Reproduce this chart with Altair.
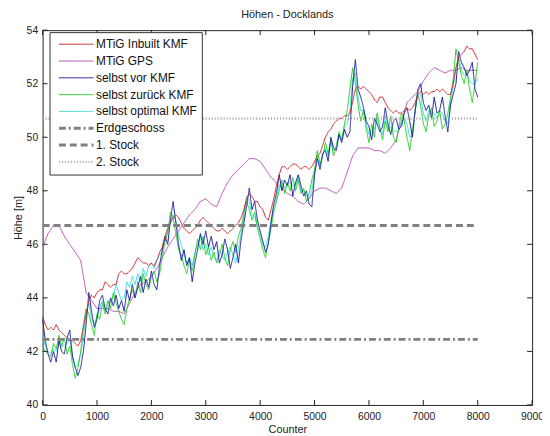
import altair as alt
import pandas as pd

# ---------------- data ----------------
counter_fine = list(range(0, 8001, 50))
counter_gps = list(range(0, 8001, 100))

inbuilt_kmf = [
    43.3, 43.0, 42.8, 42.9, 42.8, 43.0, 42.8, 42.7, 42.6, 42.5,
    42.4, 42.4, 42.3, 42.2, 42.4, 42.9, 43.4, 43.9, 44.1, 44.0,
    44.2, 44.3, 44.3, 44.6, 44.5, 44.4, 44.5, 44.5, 44.9, 45.0,
    44.9, 44.9, 45.0, 45.1, 45.3, 45.5, 45.4, 45.3, 45.3, 45.2,
    45.3, 45.2, 45.4, 45.7, 45.9, 46.3, 46.6, 46.8, 47.0, 47.1,
    47.0, 46.8, 46.6, 46.5, 46.4, 46.5, 46.6, 46.7, 46.9, 47.0,
    46.9, 46.8, 46.7, 46.6, 46.5, 46.5, 46.6, 46.5, 46.4, 46.5,
    46.6, 46.7, 46.8, 47.0, 47.3, 47.7, 47.9, 47.8, 47.6, 47.6,
    47.4, 47.3, 47.0, 46.9, 47.3, 47.7, 48.2, 48.6, 48.9, 48.9,
    48.8, 48.9, 49.0, 49.0, 48.9, 48.8, 48.9, 48.9, 48.8, 48.9,
    49.1, 49.3, 49.4, 49.7, 50.0, 50.2, 50.3, 50.5, 50.6, 50.7,
    50.7, 50.8, 50.8, 50.9, 51.3, 51.8, 51.9, 51.8, 51.9, 51.8,
    51.7, 51.6, 51.4, 51.3, 51.5, 51.5, 51.3, 51.1, 51.0, 50.9,
    51.0, 50.9, 50.9, 51.0, 51.1, 51.0, 51.1, 51.3, 51.6, 51.7,
    51.6, 51.7, 51.6, 51.7, 51.7, 51.8, 51.7, 51.8, 51.7, 51.6,
    51.6, 52.0, 52.6, 53.0, 53.1, 53.2, 53.4, 53.3, 53.3, 53.1,
    52.9,
]

selbst_vor = [
    43.2, 42.4, 41.9, 41.6, 42.0, 41.6, 42.4, 42.0, 41.9, 42.5,
    42.8, 41.8, 41.4, 41.1, 41.4, 42.0, 43.0, 44.2, 43.5, 42.9,
    43.2, 43.9, 44.1, 43.6, 43.4, 44.0, 43.7, 44.1, 43.6, 43.9,
    43.5, 44.3, 43.9, 44.5, 44.0, 44.4, 44.8, 44.2, 44.7, 44.4,
    45.0, 44.5, 44.3, 45.2, 45.8, 46.3, 46.0, 46.9, 47.6, 46.8,
    46.0, 45.4, 45.8, 45.2, 45.5, 44.6, 45.3, 45.8, 46.4, 46.0,
    46.5, 45.9, 46.3, 45.8, 46.1, 45.3, 45.6, 46.2, 45.8, 45.1,
    45.5, 46.0, 45.3, 46.2, 46.8, 47.4, 48.1, 47.3, 47.6, 46.9,
    46.5, 46.1, 45.7, 46.0, 46.8, 47.5, 47.9, 48.6, 48.0, 48.4,
    48.2, 48.6, 47.8, 48.3, 48.6, 48.2, 47.8, 48.0, 47.5, 47.4,
    48.6, 49.2, 48.8, 49.4, 49.5, 49.1, 50.0, 49.6, 49.5, 50.1,
    49.8, 50.3, 50.0, 50.2, 51.9, 52.9, 51.8, 51.5, 51.1, 50.6,
    50.4, 49.9, 50.7, 50.5, 50.2, 50.4, 51.1, 50.5, 50.1, 50.6,
    50.7, 50.3, 50.4, 50.9, 51.1, 50.6, 50.0, 51.0, 51.8, 52.0,
    51.3, 51.0, 51.2, 50.7, 51.5, 50.9, 51.0, 51.5, 50.8, 50.2,
    51.2, 51.6, 52.0, 53.2, 52.8, 52.6, 52.3, 52.5, 52.8, 51.8,
    51.5,
]

selbst_zurueck = [
    42.2, 42.0, 41.9, 41.8, 42.3, 42.1, 42.6, 42.2, 42.5, 41.9,
    42.2, 41.5, 41.0, 41.4, 42.0, 43.0, 43.6, 43.4, 43.0, 42.6,
    43.4, 43.2, 43.8, 43.4, 43.9, 43.6, 44.2, 43.8, 43.5, 43.2,
    43.0, 43.6, 44.0, 44.3, 44.0, 44.6, 44.2, 44.9, 44.5, 44.3,
    44.8, 45.0, 44.6, 44.9, 45.5, 46.1, 46.4, 47.2, 47.0, 46.4,
    45.8, 45.6, 45.2, 44.9, 45.4, 45.0, 45.6, 46.2, 45.8, 46.3,
    45.6, 45.9, 45.4, 45.7, 45.3, 45.6, 46.0, 45.5, 45.2, 45.8,
    46.1, 45.7, 46.3, 46.6, 47.2, 47.6, 47.3, 46.9, 47.2, 46.6,
    46.2, 45.8, 45.5, 46.1, 46.6, 47.2, 47.6, 48.0, 48.4, 47.9,
    48.3, 48.0, 48.5, 48.0, 48.4, 47.9, 48.1, 47.6, 47.9, 48.4,
    48.8, 49.5, 49.0, 49.3, 49.8, 49.4, 49.9, 49.3, 49.7, 50.2,
    49.9, 50.5, 51.0, 51.8, 52.6, 52.0, 51.2, 50.6, 51.0, 50.3,
    49.8, 50.5, 50.0, 50.9, 50.4, 49.9, 50.6, 50.2, 50.8, 50.0,
    49.8, 50.4, 50.9, 50.6, 50.0, 49.5, 50.3, 51.0, 51.6, 51.2,
    50.5, 50.2, 50.8, 51.1, 50.4, 50.6, 51.0, 50.3, 50.5, 50.9,
    51.5, 52.2, 53.3, 52.8, 52.3, 52.0, 52.5, 51.8, 51.3, 52.0,
    52.8,
]

selbst_optimal = [
    42.6, 42.2, 42.0, 41.9, 42.1, 42.0, 42.4, 42.2, 42.2, 42.3,
    42.5, 41.8, 41.4, 41.5, 41.9, 42.6, 43.3, 43.8, 43.2, 43.0,
    43.3, 43.6, 43.9, 43.5, 43.8, 43.9, 44.0, 44.5, 44.2, 43.9,
    44.0, 44.6, 44.4, 44.8, 44.5, 44.9, 44.6, 45.1, 44.8, 45.2,
    45.3, 45.1, 45.4, 45.6, 45.7, 46.2, 46.5, 46.8, 47.1, 46.9,
    46.3, 46.0, 45.6, 45.3, 45.5, 45.2, 45.7, 46.0, 46.3, 45.8,
    46.0, 45.6, 45.9, 45.5, 45.4, 45.8, 45.6, 45.4, 45.7, 45.9,
    45.6, 45.3, 45.8, 46.4, 47.0, 47.8, 47.6, 47.1, 47.0, 46.7,
    46.4, 46.0, 45.9, 46.3, 46.9, 47.4, 47.7, 48.2, 48.2, 48.1,
    48.3, 48.3, 48.2, 48.2, 48.5, 48.0, 48.0, 47.8, 47.7, 48.0,
    48.7, 49.3, 48.9, 49.3, 49.6, 49.3, 49.9, 49.5, 49.6, 50.1,
    49.9, 50.4, 50.5, 51.0, 52.2, 52.4, 51.5, 51.0, 51.0, 50.5,
    50.1, 50.2, 50.3, 50.7, 50.3, 50.1, 50.8, 50.3, 50.4, 50.3,
    50.2, 50.3, 50.6, 50.7, 50.5, 50.0, 50.1, 51.0, 51.7, 51.6,
    50.9, 50.6, 51.0, 50.9, 50.9, 50.7, 51.0, 50.9, 50.6, 50.5,
    51.3, 51.9, 52.6, 53.0, 52.5, 52.3, 52.4, 52.1, 52.0, 52.0,
    52.2,
]

mtig_gps = [
    45.9, 46.4, 46.7, 46.7, 46.3, 46.0, 45.7, 45.4, 44.2, 43.9,
    43.6, 43.6, 43.6, 43.5, 43.5, 43.4, 43.8, 44.2, 44.5, 44.6,
    44.8, 45.1, 45.5, 45.9, 46.2, 46.5, 46.8, 47.1, 47.3, 47.6,
    47.7, 47.5, 47.4, 47.9, 48.3, 48.6, 48.8, 49.0, 49.2, 49.2,
    49.1, 48.8, 48.5, 48.3, 48.1, 47.9, 47.8, 47.6, 47.5, 47.7,
    48.0, 48.1, 48.1, 48.0, 47.9, 48.1, 48.7, 49.3, 49.6, 49.6,
    49.6, 49.5, 49.5, 49.4, 49.6, 49.9, 50.6, 51.3, 51.5, 51.7,
    52.1, 52.4, 52.6, 52.5, 52.4, 52.5, 52.5, 52.6, 52.5, 52.5,
    52.5,
]

floor_names = ["Erdgeschoss", "1. Stock", "2. Stock"]
floor_values = [42.45, 46.7, 50.7]
floor_span = [0, 8000]

series_names = ["MTiG Inbuilt KMF", "MTiG GPS", "selbst vor KMF",
                "selbst zurück KMF", "selbst optimal KMF",
                "Erdgeschoss", "1. Stock", "2. Stock"]
series_colors = ["#cc2020", "#b84db8", "#1c1ca0", "#22cc22", "#33dddd",
                 "#808080", "#808080", "#a6a6a6"]
series_dash = [[1, 0], [1, 0], [1, 0], [1, 0], [1, 0],
               [7, 3, 2, 3], [7, 4], [1, 2]]
series_width = [1, 1, 1, 1, 1, 3, 3, 2.5]

x_ticks = list(range(0, 9001, 1000))
y_ticks = list(range(40, 55, 2))

# ---------------- tables ----------------
rows = []
for name, vals in [("MTiG Inbuilt KMF", inbuilt_kmf),
                   ("selbst vor KMF", selbst_vor),
                   ("selbst zurück KMF", selbst_zurueck),
                   ("selbst optimal KMF", selbst_optimal)]:
    for c, v in zip(counter_fine, vals):
        rows.append({"counter": c, "value": v, "series": name})
for c, v in zip(counter_gps, mtig_gps):
    rows.append({"counter": c, "value": v, "series": "MTiG GPS"})
for name, v in zip(floor_names, floor_values):
    for c in floor_span:
        rows.append({"counter": c, "value": v, "series": name})
df = pd.DataFrame(rows)

xt_df = pd.DataFrame({"t": x_ticks})
yt_df = pd.DataFrame({"t": y_ticks})

# ---------------- chart ----------------
W, H = 495, 379
FONT = "Liberation Sans"

x_scale = alt.Scale(domain=[0, 9000], nice=False, zero=False)
y_scale = alt.Scale(domain=[40, 54], nice=False, zero=False)

x_axis = alt.Axis(values=x_ticks, format="d", ticks=False, tickSize=0, domain=False,
                  grid=False, labelFlush=False, labelOverlap=False, labelPadding=7,
                  labelFontSize=10.5, labelFont=FONT, labelColor="#222",
                  title="Counter", titleFontSize=11, titleFont=FONT,
                  titleFontWeight="normal", titleColor="#222", titlePadding=1)
y_axis = alt.Axis(values=y_ticks, format="d", ticks=False, tickSize=0, domain=False,
                  grid=False, labelFlush=False, labelOverlap=False, labelPadding=5,
                  labelFontSize=10.5, labelFont=FONT, labelColor="#222",
                  title="Höhe [m]", titleFontSize=11, titleFont=FONT,
                  titleFontWeight="normal", titleColor="#222", titlePadding=3)

legend = alt.Legend(title=None, orient="none", legendX=7, legendY=2,
                    symbolType="stroke", symbolSize=1225, clipHeight=16.4,
                    rowPadding=0, padding=4, symbolOffset=4, labelOffset=1,
                    labelFontSize=12, labelFont=FONT, labelColor="#111",
                    strokeColor="#333", fillColor="white", cornerRadius=0)

color_scale = alt.Scale(type="ordinal", domain=series_names, range=series_colors)
dash_scale = alt.Scale(type="ordinal", domain=series_names, range=series_dash)
width_scale = alt.Scale(type="ordinal", domain=series_names, range=series_width)


def line_layer(name):
    return alt.Chart(df).transform_filter(alt.datum.series == name).mark_line().encode(
        x=alt.X("counter:Q", scale=x_scale, axis=x_axis, title="Counter"),
        y=alt.Y("value:Q", scale=y_scale, axis=y_axis, title="Höhe [m]"),
        color=alt.Color("series:N", scale=color_scale, legend=legend),
        strokeDash=alt.StrokeDash("series:N", scale=dash_scale, legend=legend),
        strokeWidth=alt.StrokeWidth("series:N", scale=width_scale, legend=legend),
    )


draw_order = ["MTiG GPS", "selbst optimal KMF", "selbst zurück KMF",
              "selbst vor KMF", "MTiG Inbuilt KMF",
              "Erdgeschoss", "1. Stock", "2. Stock"]
layers = [line_layer(n) for n in draw_order]

tick_x_bottom = alt.Chart(xt_df).mark_rule(color="#222", strokeWidth=1).encode(
    x=alt.X("t:Q", scale=x_scale, axis=x_axis, title="Counter"),
    y=alt.value(H), y2=alt.value(H - 5))
tick_x_top = alt.Chart(xt_df).mark_rule(color="#222", strokeWidth=1).encode(
    x=alt.X("t:Q", scale=x_scale, axis=x_axis, title="Counter"),
    y=alt.value(0), y2=alt.value(5))
tick_y_left = alt.Chart(yt_df).mark_rule(color="#222", strokeWidth=1).encode(
    y=alt.Y("t:Q", scale=y_scale, axis=y_axis, title="Höhe [m]"),
    x=alt.value(0), x2=alt.value(5))
tick_y_right = alt.Chart(yt_df).mark_rule(color="#222", strokeWidth=1).encode(
    y=alt.Y("t:Q", scale=y_scale, axis=y_axis, title="Höhe [m]"),
    x=alt.value(W), x2=alt.value(W - 5))

chart = alt.layer(*layers, tick_x_bottom, tick_x_top, tick_y_left, tick_y_right).properties(
    width=W, height=H,
    title=alt.TitleParams("Höhen - Docklands", fontSize=11, font=FONT,
                          fontWeight="normal", color="#222", offset=5,
                          anchor="middle"),
    autosize=alt.AutoSizeParams(type="none"),
    padding={"left": 35, "top": 20, "right": 10, "bottom": 30},
    background="white",
).configure_view(stroke="#222", strokeWidth=1)

chart.save("out.html", embed_options={"renderer": "svg", "actions": False})
